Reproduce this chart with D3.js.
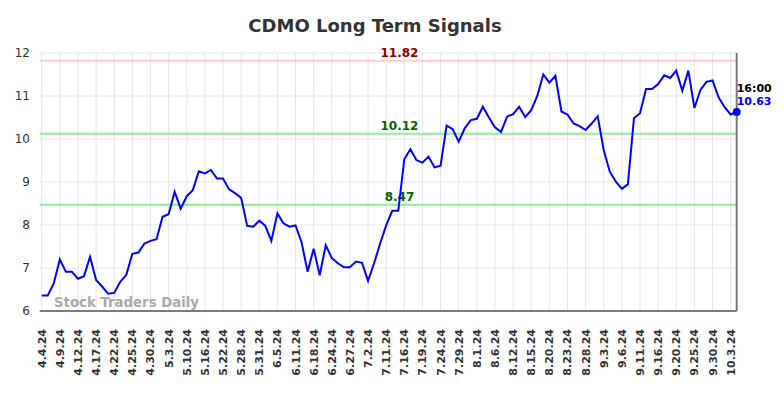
<!DOCTYPE html>
<html>
<head>
<meta charset="utf-8">
<script src="https://cdn.jsdelivr.net/npm/d3@7"></script>
<style>
  body { margin: 0; background: #fff; }
  svg { display: block; font-family: "DejaVu Sans", sans-serif; }
</style>
</head>
<body>
<svg id="chart" width="784" height="398"></svg>
<script>
// tick labels, one every 3 trading days
const tickLabels = ['4.4.24','4.9.24','4.12.24','4.17.24','4.22.24','4.25.24','4.30.24','5.3.24',
  '5.10.24','5.16.24','5.22.24','5.28.24','5.31.24','6.5.24','6.11.24','6.18.24','6.24.24',
  '6.27.24','7.2.24','7.11.24','7.16.24','7.19.24','7.24.24','7.29.24','8.1.24','8.6.24',
  '8.12.24','8.15.24','8.20.24','8.23.24','8.28.24','9.3.24','9.6.24','9.11.24','9.16.24',
  '9.20.24','9.25.24','9.30.24','10.3.24'];
const tickStep = 3;

// daily closes
const prices = [6.36,6.36,6.64,7.20,6.91,6.91,6.75,6.81,7.26,6.72,6.57,6.40,6.42,6.68,6.84,7.33,
  7.36,7.57,7.63,7.67,8.19,8.25,8.77,8.38,8.67,8.81,9.25,9.20,9.28,9.08,9.08,8.83,8.74,8.63,
  7.98,7.96,8.10,7.98,7.63,8.27,8.04,7.96,7.99,7.60,6.91,7.45,6.83,7.53,7.23,7.11,7.02,7.02,
  7.15,7.12,6.70,7.11,7.57,7.99,8.33,8.33,9.53,9.76,9.51,9.45,9.59,9.34,9.38,10.31,10.23,9.94,
  10.25,10.44,10.47,10.75,10.50,10.27,10.16,10.52,10.58,10.75,10.51,10.67,11.00,11.50,11.31,
  11.47,10.64,10.57,10.36,10.30,10.21,10.36,10.53,9.74,9.24,9.01,8.84,8.95,10.48,10.60,11.16,
  11.16,11.28,11.48,11.42,11.59,11.12,11.59,10.72,11.14,11.33,11.36,10.97,10.74,10.57,10.63];

const yTicks = [6, 7, 8, 9, 10, 11, 12];
const signalLevels = [11.82, 10.12, 8.47];
const signalColors = ['#8b0000', '#006400', '#006400'];
const lastTime = '16:00';

const svg = d3.select('#chart');
const margin = {top: 53, right: 47.3, bottom: 87, left: 41.7};
const W = 784, H = 398;

const x = d3.scaleLinear()
  .domain([0, prices.length - 1])
  .range([margin.left, W - margin.right]);
const y = d3.scaleLinear()
  .domain([6, 12])
  .range([H - margin.bottom, margin.top]);

//title
svg.append('text')
  .attr('x', 375)
  .attr('y', 32)
  .attr('text-anchor', 'middle')
  .attr('font-size', 18)
  .attr('font-weight', 'bold')
  .attr('fill', '#333')
  .text('CDMO Long Term Signals');

//grid
const grid = svg.append('g');
grid.selectAll('line.h')
  .data(yTicks)
  .enter().append('line')
  .attr('x1', margin.left - 2)
  .attr('x2', W - margin.right)
  .attr('y1', d => y(d))
  .attr('y2', d => y(d))
  .attr('stroke', '#e6e6e6')
  .attr('stroke-width', 1);
grid.selectAll('line.v')
  .data(tickLabels)
  .enter().append('line')
  .attr('x1', (d, i) => x(i * tickStep))
  .attr('x2', (d, i) => x(i * tickStep))
  .attr('y1', y(12))
  .attr('y2', y(6))
  .attr('stroke', '#e6e6e6')
  .attr('stroke-width', 1);

//y labels
svg.selectAll('text.ytick')
  .data(yTicks)
  .enter().append('text')
  .attr('x', 30)
  .attr('y', d => y(d) + 4)
  .attr('text-anchor', 'end')
  .attr('font-size', 12)
  .attr('fill', '#333')
  .text(d => d);

//x labels
svg.selectAll('text.xtick')
  .data(tickLabels)
  .enter().append('text')
  .attr('transform', (d, i) => 'translate(' + (x(i * tickStep) + 4) + ',' + 329 + ') rotate(-90)')
  .attr('text-anchor', 'end')
  .attr('font-size', 11)
  .attr('font-weight', 'bold')
  .attr('fill', '#333')
  .text(d => d);

//watermark
svg.append('text')
  .attr('x', 54)
  .attr('y', 307)
  .attr('font-size', 13.3)
  .attr('font-weight', 'bold')
  .attr('fill', '#aaa')
  .text('Stock Traders Daily');

//signal lines
signalLevels.forEach((lvl, i) => {
  svg.append('line')
    .attr('x1', margin.left - 2)
    .attr('x2', W - margin.right)
    .attr('y1', y(lvl))
    .attr('y2', y(lvl))
    .attr('stroke', i == 0 ? '#ffcccc' : '#90ee90')
    .attr('stroke-width', 2);
  svg.append('text')
    .attr('x', 399.5)
    .attr('y', y(lvl) - 3.5)
    .attr('text-anchor', 'middle')
    .attr('font-size', 12)
    .attr('font-weight', 'bold')
    .attr('fill', signalColors[i])
    .text(lvl.toFixed(2));
});

//axes lines
svg.append('line')
  .attr('x1', margin.left - 2)
  .attr('x2', W - margin.right)
  .attr('y1', y(6))
  .attr('y2', y(6))
  .attr('stroke', '#555')
  .attr('stroke-width', 1.5);
svg.append('line')
  .attr('x1', W - margin.right)
  .attr('x2', W - margin.right)
  .attr('y1', y(12))
  .attr('y2', y(6))
  .attr('stroke', '#777')
  .attr('stroke-width', 2);

//price line
const line = d3.line()
  .x((d, i) => x(i))
  .y(d => y(d));
svg.append('path')
  .datum(prices)
  .attr('d', line)
  .attr('fill', 'none')
  .attr('stroke', '#0000ff')
  .attr('stroke-width', 2);

const last = prices.length - 1;
svg.append('circle')
  .attr('cx', x(last))
  .attr('cy', y(prices[last]))
  .attr('r', 4)
  .attr('fill', '#0000ff');

svg.append('text')
  .attr('x', x(last))
  .attr('y', y(prices[last]) - 20)
  .attr('font-size', 11)
  .attr('font-weight', 'bold')
  .attr('fill', '#000')
  .text(lastTime);
svg.append('text')
  .attr('x', x(last))
  .attr('y', y(prices[last]) - 7)
  .attr('font-size', 11)
  .attr('font-weight', 'bold')
  .attr('fill', '#0000ff')
  .text(prices[last].toFixed(2));
</script>
</body>
</html>
